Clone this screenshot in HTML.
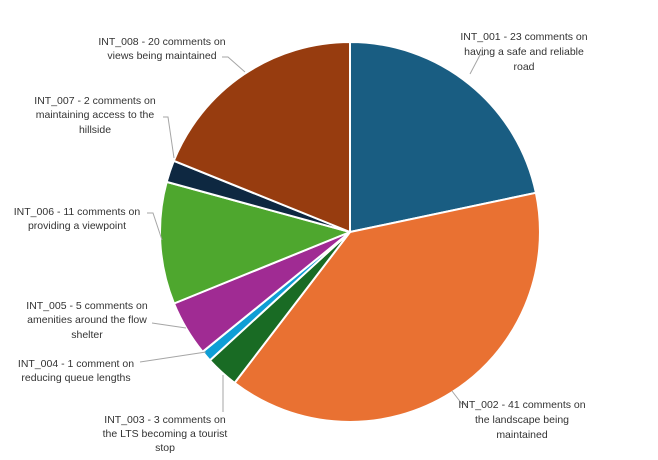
<!DOCTYPE html><html><head><style>body{margin:0;background:#fff}svg{display:block}text{font-family:"Liberation Sans",sans-serif;font-size:10.5px;fill:#333;text-anchor:middle}</style></head><body>
<svg width="658" height="460" viewBox="0 0 658 460">
<g stroke="#fff" stroke-width="2" stroke-linejoin="round">
<path d="M350,232 L350,42 A190,190 0 0 1 535.9,192.8Z" fill="#195d82"/>
<path d="M350,232 L535.9,192.8 A190,190 0 0 1 234.6,382.9Z" fill="#e97132"/>
<path d="M350,232 L234.6,382.9 A190,190 0 0 1 209.9,360.4Z" fill="#196b24"/>
<path d="M350,232 L209.9,360.4 A190,190 0 0 1 202.6,351.8Z" fill="#0f9ed5"/>
<path d="M350,232 L202.6,351.8 A190,190 0 0 1 174.0,303.5Z" fill="#a02b93"/>
<path d="M350,232 L174.0,303.5 A190,190 0 0 1 166.7,181.9Z" fill="#4ea72e"/>
<path d="M350,232 L166.7,181.9 A190,190 0 0 1 173.8,160.8Z" fill="#0e2841"/>
<path d="M350,232 L173.8,160.8 A190,190 0 0 1 350,42Z" fill="#973c0f"/>
</g>
<g stroke="#a6a6a6" fill="none" stroke-width="1">
<polyline points="222,57 228,57 245,72"/>
<polyline points="163,117 168,117 174,158"/>
<polyline points="147,213 153,213 162,240"/>
<polyline points="152,323 186,328"/>
<polyline points="140,362 206,352"/>
<polyline points="223,375 223,412"/>
<polyline points="484,55 480,55 470,74"/>
<polyline points="467,404 462,404 452,391"/>
</g>
<text x="524" y="40">INT_001 - 23 comments on</text><text x="524" y="55">having a safe and reliable</text><text x="524" y="70">road</text>
<text x="522" y="408">INT_002 - 41 comments on</text><text x="522" y="423">the landscape being</text><text x="522" y="438">maintained</text>
<text x="165" y="423">INT_003 - 3 comments on</text><text x="165" y="437">the LTS becoming a tourist</text><text x="165" y="451">stop</text>
<text x="76" y="367">INT_004 - 1 comment on</text><text x="76" y="381">reducing queue lengths</text>
<text x="87" y="309">INT_005 - 5 comments on</text><text x="87" y="323">amenities around the flow</text><text x="87" y="338">shelter</text>
<text x="77" y="215">INT_006 - 11 comments on</text><text x="77" y="229">providing a viewpoint</text>
<text x="95" y="104">INT_007 - 2 comments on</text><text x="95" y="118">maintaining access to the</text><text x="95" y="133">hillside</text>
<text x="162" y="45">INT_008 - 20 comments on</text><text x="162" y="59">views being maintained</text>
</svg></body></html>
